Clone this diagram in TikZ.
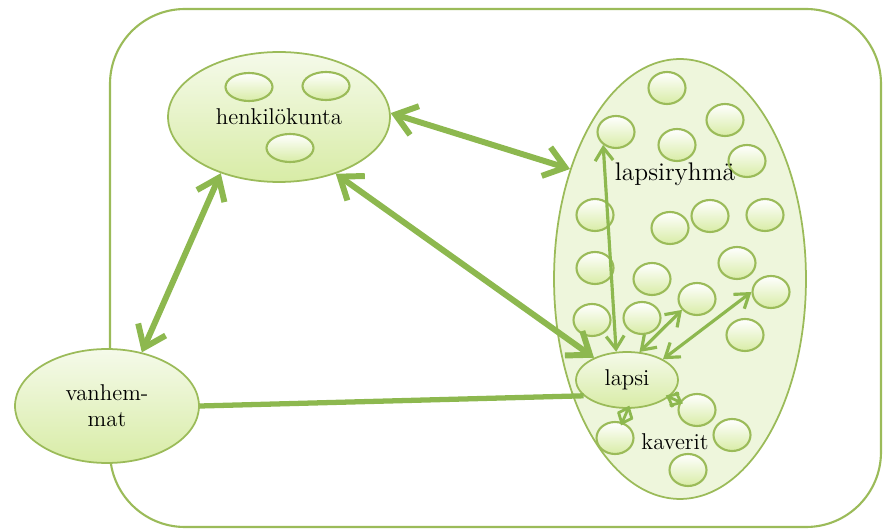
\documentclass[tikz,border=0pt]{standalone}
\usepackage{tikz}
\usetikzlibrary{arrows.meta,shapes.geometric}
\definecolor{leaf}{HTML}{9BBB59}
\definecolor{stem}{HTML}{8DB84F}
\definecolor{paleLeaf}{HTML}{EEF6DC}
\definecolor{lightLeaf}{HTML}{F5FAEA}
\definecolor{midLeaf}{HTML}{D8ECA6}

\begin{document}
\begin{tikzpicture}[x=0.02cm,y=-0.02cm,
  base/.style={ellipse,draw=leaf,line width=1pt,inner sep=0pt},
  blob/.style={base,top color=lightLeaf,bottom color=midLeaf},
  kid/.style={base,line width=1.2pt,top color=white,bottom color=midLeaf,minimum width=0.74cm,minimum height=0.64cm},
  staff/.style={kid,minimum width=0.94cm,minimum height=0.56cm},
  link/.style={stem,line width=3.4pt,{Straight Barb[length=4mm,width=6mm]}-{Straight Barb[length=4mm,width=6mm]}},
  tie/.style={stem,line width=1.8pt,{Straight Barb[length=2.6mm,width=3.6mm]}-{Straight Barb[length=2.6mm,width=3.6mm]}},
  nub/.style={stem,line width=1.6pt,shorten <=-2pt,shorten >=-2pt,{Straight Barb[length=1.8mm,width=3mm]}-{Straight Barb[length=1.8mm,width=3mm]}},
  every node/.style={font=\fontsize{13}{15}\selectfont}
]
  \useasboundingbox (0,0) rectangle (883,530);
  \draw[leaf,line width=1.2pt,rounded corners=1.5cm] (110,9) rectangle (881,527);

  \node[base,fill=paleLeaf,minimum width=5.04cm,minimum height=8.8cm] (grp) at (680,279) {};
  \foreach \n/\x/\y in {1/667/88,2/725/120,3/616/132,4/677/145,5/747/161,6/595/215,7/670/228,
      8/710/216,9/765/215,10/595/268,11/652/279,12/737/263,13/592/320,14/642/318,15/697/299,
      16/771/292,17/745/335,18/697/410,19/732/435,20/615/438,21/688/470}
    \node[kid] (d\n) at (\x,\y) {};
  \node[blob,minimum width=2.04cm,minimum height=1.12cm] (lapsi) at (627,380) {lapsi};
  \node[font=\fontsize{14.5}{17}\selectfont] (grplbl) at (675,174) {lapsiryhmä};
  \node (kaverit) at (675,442) {kaverit};

  \node[blob,minimum width=4.44cm,minimum height=2.6cm] (henk) at (279,117) {henkilökunta};
  \node[staff] (h1) at (249,87) {};
  \node[staff] (h2) at (326,86) {};
  \node[staff] (h3) at (290,148) {};

  \node[blob,align=center,minimum width=3.68cm,minimum height=2.28cm] (vanh) at (107,406) {vanhem-\\mat};

  \draw[link] (henk.224) -- (vanh.57);
  \draw[link] (henk.2) -- (grp.135);
  \draw[link] (henk.-45) -- (lapsi.146);
  \draw[stem,line width=3pt] (vanh.east) -- (lapsi.200);
  \draw[tie] (lapsi.111) -- (d3.225);
  \draw[tie] (lapsi.66) -- (d15.216);
  \draw[tie] (lapsi.30) -- (d16.180);
  \draw[nub] (lapsi.-22) -- (d18.155);
  \draw[nub] (lapsi.-88) -- (d20.65);
\end{tikzpicture}
\end{document}
